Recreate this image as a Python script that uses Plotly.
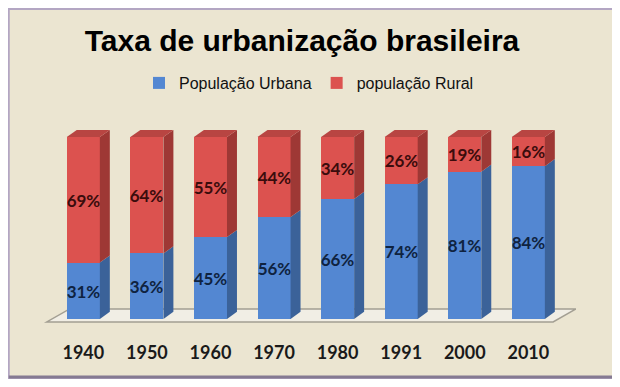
import plotly.graph_objects as go

years = ["1940", "1950", "1960", "1970", "1980", "1991", "2000", "2010"]
urbana = [31, 36, 45, 56, 66, 74, 81, 84]
rural = [69, 64, 55, 44, 34, 26, 19, 16]

xs = list(range(len(years)))
BAR_W = 0.52
DX, DY = 0.157, 3.9  # 3-D depth in data units

BLUE, BLUE_SIDE = "#5387d2", "#3b6299"
RED, RED_SIDE, RED_TOP = "#dc524f", "#9e3835", "#b84542"

fig = go.Figure()
fig.add_trace(go.Bar(
    x=xs, y=urbana, name="População Urbana", width=BAR_W,
    marker=dict(color=BLUE, line=dict(width=0)),
    texttemplate="%{y}%", textposition="inside", insidetextanchor="middle",
    textfont=dict(family="Lato", size=17, color="#0f2340", weight="bold"),
    textangle=0, constraintext="none",
))
fig.add_trace(go.Bar(
    x=xs, y=rural, name="população Rural", width=BAR_W,
    marker=dict(color=RED, line=dict(width=0)),
    texttemplate="%{y}%", textposition="inside", insidetextanchor="middle",
    textfont=dict(family="Lato", size=17, color="#3a0c0c", weight="bold"),
    textangle=0, constraintext="none",
))

# page body has an 8px margin: figure pixel = reference pixel - 8
PL, PT, PW, PH = 42.2, 128, 533.4, 200  # plot area in reference pixels


def px_to_paper_x(px):
    return (px - PL) / PW


def px_to_paper_y(py):
    return (PT + PH - py) / PH


shapes = []
shapes.append(dict(type="rect", xref="paper", yref="paper", layer="below",
                   x0=px_to_paper_x(9), x1=px_to_paper_x(615),
                   y0=px_to_paper_y(378), y1=px_to_paper_y(9),
                   fillcolor="#ebe5d1", line=dict(color="#b3a6c3", width=2)))
shapes.append(dict(type="line", xref="paper", yref="paper", layer="below",
                   x0=px_to_paper_x(9), x1=px_to_paper_x(615),
                   y0=px_to_paper_y(377), y1=px_to_paper_y(377),
                   line=dict(color="#857a92", width=3)))

# floor
fl, fr = -0.575, 7.39
fyf, fyb = -1.65, 5.5
fdx = 0.36
shapes.append(dict(type="path", xref="x", yref="y", layer="below",
                   path=f"M{fl},{fyf} L{fr},{fyf} L{fr+fdx},{fyb} L{fl+fdx},{fyb} Z",
                   fillcolor="#f1eee5", line=dict(color="#a39f93", width=1.5)))

# 3-D faces of the bars
for x, u, r in zip(xs, urbana, rural):
    xr = x + BAR_W / 2
    xl = x - BAR_W / 2
    tot = u + r
    shapes.append(dict(type="path", xref="x", yref="y", layer="above",
                       path=f"M{xr},0 L{xr+DX},{DY} L{xr+DX},{u+DY} L{xr},{u} Z",
                       fillcolor=BLUE_SIDE, line=dict(width=0)))
    shapes.append(dict(type="path", xref="x", yref="y", layer="above",
                       path=f"M{xr},{u} L{xr+DX},{u+DY} L{xr+DX},{tot+DY} L{xr},{tot} Z",
                       fillcolor=RED_SIDE, line=dict(width=0)))
    shapes.append(dict(type="path", xref="x", yref="y", layer="above",
                       path=f"M{xl},{tot} L{xr},{tot} L{xr+DX},{tot+DY} L{xl+DX},{tot+DY} Z",
                       fillcolor=RED_TOP, line=dict(width=0)))

W, H = 612, 379
fig.update_layout(
    width=W, height=H,
    barmode="stack",
    paper_bgcolor="white",
    plot_bgcolor="rgba(0,0,0,0)",
    margin=dict(l=PL - 8, r=W - (PL - 8 + PW), t=PT - 8, b=H - (PT - 8 + PH)),
    shapes=shapes,
    title=dict(text="<b>Taxa de urbanização brasileira</b>",
               font=dict(family="Liberation Sans", size=30, color="#000000"),
               xref="container", x=(302 - 8) / W, xanchor="center",
               yref="container", y=1 - (40 - 8) / H, yanchor="middle"),
    legend=dict(orientation="h", x=0.50, xanchor="center", y=1.225, yanchor="middle",
                font=dict(family="Liberation Sans", size=16, color="#111111"),
                bgcolor="rgba(0,0,0,0)", traceorder="normal"),
    xaxis=dict(range=[-0.65, 7.75], tickmode="array", tickvals=xs, ticktext=years,
               showgrid=False, zeroline=False, showline=False,
               ticks="outside", ticklen=8, tickcolor="rgba(0,0,0,0)",
               tickfont=dict(family="Lato", size=18, color="#1a1a1a", weight="bold")),
    yaxis=dict(range=[-5, 105], visible=False, showgrid=False, zeroline=False),
    showlegend=True,
    bargap=0,
)

fig.write_html("out.html")
